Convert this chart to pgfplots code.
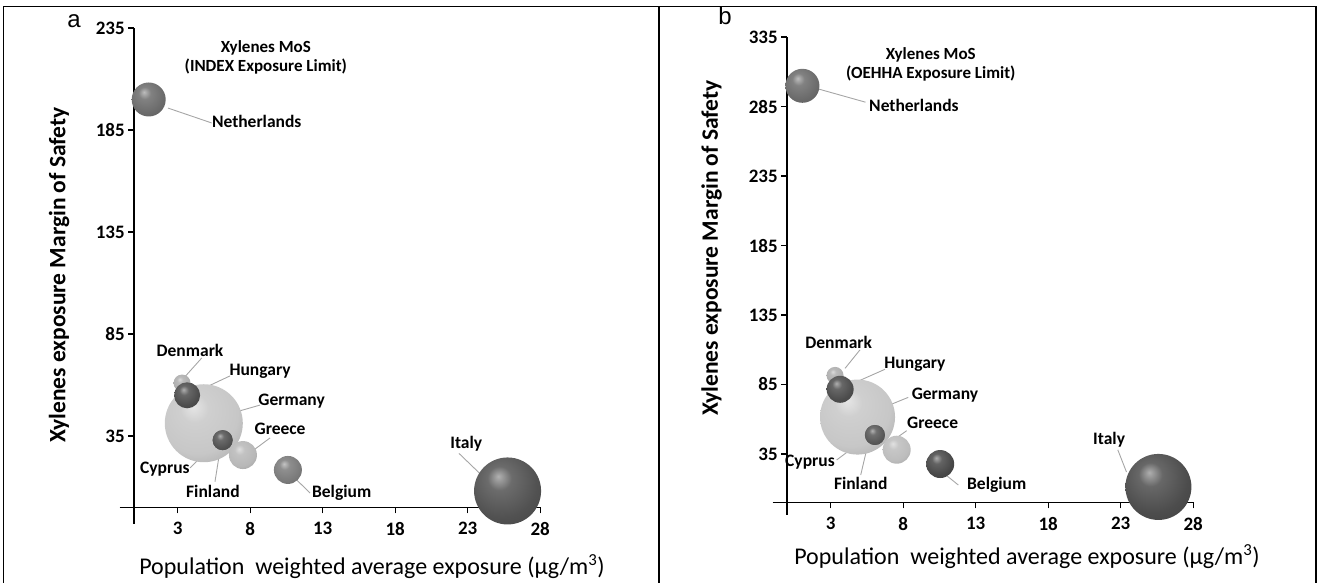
\documentclass[border=0pt]{standalone}
\usepackage{pgfplots}
\pgfplotsset{compat=1.18}
\usepackage{fontspec}
\setmainfont{Carlito}
\newfontfamily\letterfont{Liberation Sans}

% shaded sphere used as bubble marker; its colour is taken from bubcol
\colorlet{bubcol}{gray}
\pgfdeclareradialshading[bubcol]{bubble}{\pgfqpoint{-7bp}{11bp}}{%
  color(0bp)=(bubcol!45!white);
  color(9bp)=(bubcol!85!white);
  color(26bp)=(bubcol);
  color(48bp)=(bubcol!75!black);
  color(64bp)=(bubcol!65!black)}
\pgfdeclareplotmark{bubble}{%
  \pgfpathcircle{\pgfpointorigin}{\pgfplotmarksize}%
  \pgfshadepath{bubble}{0}%
  \pgfusepath{}%
}
\tikzset{
  bubble color/.code={\colorlet{bubcol}{#1}},
  leader/.style={draw=gray!70, line width=0.9pt},
  cname/.style={font=\bfseries\fontsize{17.5}{19}\selectfont, inner sep=0pt},
}

\pgfplotsset{
  mosaxis/.style={
    scale only axis,
    axis lines=middle,
    axis line style={-, line width=1.8pt, black},
    xmin=-1, xmax=28,
    xtick={3,8,...,28},
    tick style={black, line width=1.4pt},
    major tick length=6pt,
    tick align=outside,
    clip=false,
    /pgf/number format/assume math mode=true,
    tick label style={font=\bfseries\fontsize{19}{19}\selectfont},
    xticklabel shift=5pt,
    yticklabel shift=0pt,
  },
  bub/.style 2 args={only marks, mark=bubble, mark size=#1, mark options={bubble color=#2}},
}

\begin{document}
\begin{tikzpicture}
\useasboundingbox (0pt,0pt) rectangle (1322pt,583pt);
% panel frames
\draw[line width=1.6pt] (3.4pt,0pt) -- (3.4pt,576.5pt) -- (1316pt,576.5pt) -- (1316pt,0pt);
\draw[line width=1.6pt] (659pt,0pt) -- (659pt,576.5pt);

% ---------------- panel a: INDEX exposure limit ----------------
\begin{axis}[mosaxis, at={(119.7pt,59.2pt)}, anchor=south west,
  width=420.5pt, height=495.7pt, ymin=-8, ymax=235, ytick={35,85,...,235}]
\addplot[bub={39pt}{black!22}]   coordinates {(4.8,41.3)};   % Germany
\addplot[bub={33.5pt}{black!68}] coordinates {(25.75,8.1)};  % Italy
\addplot[bub={17pt}{black!58}]   coordinates {(1.0,200)};    % Netherlands
\addplot[bub={8.5pt}{black!32}]  coordinates {(3.3,61)};     % Denmark
\addplot[bub={13pt}{black!70}]   coordinates {(3.65,55)};    % Hungary
\addplot[bub={14pt}{black!28}]   coordinates {(7.5,25.7)};   % Greece
\addplot[bub={14pt}{black!52}]   coordinates {(10.6,18.4)};  % Belgium
\addplot[bub={10pt}{black!68}]   coordinates {(6.1,33)};     % Finland
\addplot[bub={10pt}{black!68}]   coordinates {(6.1,33)};     % Cyprus

\node[cname, align=center, font=\bfseries\fontsize{17}{18.7}\selectfont] at (9.08,220.6) {Xylenes MoS\\(INDEX Exposure Limit)};
\draw[leader] (2.33,195.8) -- (5.34,188.5);  \node[cname] at (8.45,189.1) {Netherlands};
\draw[leader] (4.66,73.3) -- (3.50,64.1);    \node[cname] at (3.85,77.2) {Denmark};
\draw[leader] (6.61,64.5) -- (4.54,57.6);    \node[cname] at (8.68,66.6) {Hungary};
\draw[leader] (8.68,50.2) -- (6.26,45.3);    \node[cname] at (10.86,51.9) {Germany};
\draw[leader] (9.37,34.1) -- (8.10,27.4);    \node[cname] at (10.06,38.5) {Greece};
\draw[leader] (3.85,19.4) -- (5.69,32.3);    \node[cname] at (2.12,18.9) {Cyprus};
\draw[leader] (5.57,12.6) -- (6.03,33.1);    \node[cname] at (5.43,8.1) {Finland};
\draw[leader] (12.13,7.1) -- (10.86,15.9);   \node[cname] at (14.31,7.3) {Belgium};
\draw[leader] (22.4,26.5) -- (23.83,16.7);   \node[cname] at (22.9,31.1) {Italy};
\end{axis}

% ---------------- panel b: OEHHA exposure limit ----------------
\begin{axis}[mosaxis, at={(772.7pt,68pt)}, anchor=south west,
  width=420.5pt, height=477.8pt, ymin=-9, ymax=335, ytick={35,85,...,335}]
\addplot[bub={37.5pt}{black!22}] coordinates {(4.85,61.5)};  % Germany
\addplot[bub={33pt}{black!70}]   coordinates {(25.6,11.2)};  % Italy
\addplot[bub={17pt}{black!58}]   coordinates {(1.05,300)};   % Netherlands
\addplot[bub={8.5pt}{black!32}]  coordinates {(3.3,91.5)};   % Denmark
\addplot[bub={13.5pt}{black!70}] coordinates {(3.65,81.5)};  % Hungary
\addplot[bub={14pt}{black!26}]   coordinates {(7.55,38)};    % Greece
\addplot[bub={14pt}{black!72}]   coordinates {(10.55,27.7)}; % Belgium
\addplot[bub={10pt}{black!66}]   coordinates {(6.05,48.6)};  % Finland
\addplot[bub={10pt}{black!66}]   coordinates {(6.05,48.6)};  % Cyprus

\node[cname, align=center, font=\bfseries\fontsize{17}{18.7}\selectfont] at (9.9,315.2) {Xylenes MoS\\(OEHHA Exposure Limit)};
\draw[leader] (2.19,297.6) -- (5.4,288.2);   \node[cname] at (8.74,286) {Netherlands};
\draw[leader] (5.02,109.9) -- (3.99,96.6);   \node[cname] at (3.55,115) {Denmark};
\draw[leader] (6.74,95.9) -- (4.56,85.8);    \node[cname] at (8.81,99.7) {Hungary};
\draw[leader] (8.35,75.7) -- (5.37,63);      \node[cname] at (10.88,77.4) {Germany};
\draw[leader] (8.24,51.7) -- (6.86,41.4);    \node[cname] at (10.03,57.5) {Greece};
\draw[leader] (3.41,30.6) -- (5.71,48.6);    \node[cname] at (1.57,28.7) {Cyprus};
\draw[leader] (5.07,19.8) -- (5.66,46.2);    \node[cname] at (5.07,13.8) {Finland};
\draw[leader] (11.8,12.6) -- (10.66,22.2);   \node[cname] at (14.45,12.6) {Belgium};
\draw[leader] (22.8,37.9) -- (23.4,21.9);    \node[cname] at (22.2,45.1) {Italy};
\end{axis}

% axis titles and panel letters
\node[rotate=90, font=\bfseries\fontsize{23.5}{23.5}\selectfont] at (59pt,308pt) {Xylenes exposure Margin of Safety};
\node[font=\fontsize{24}{24}\selectfont] at (372pt,16pt) {Population\ \ weighted average exposure (μg/m\textsuperscript{3})};
\node[rotate=90, font=\bfseries\fontsize{23.5}{23.5}\selectfont] at (711.6pt,335pt) {Xylenes exposure Margin of Safety};
\node[font=\fontsize{24}{24}\selectfont] at (1027pt,26pt) {Population\ \ weighted average exposure (μg/m\textsuperscript{3})};
\node[font=\letterfont\fontsize{24}{24}\selectfont] at (74pt,562pt) {a};
\node[font=\letterfont\fontsize{24}{24}\selectfont] at (725pt,567pt) {b};
\end{tikzpicture}
\end{document}
